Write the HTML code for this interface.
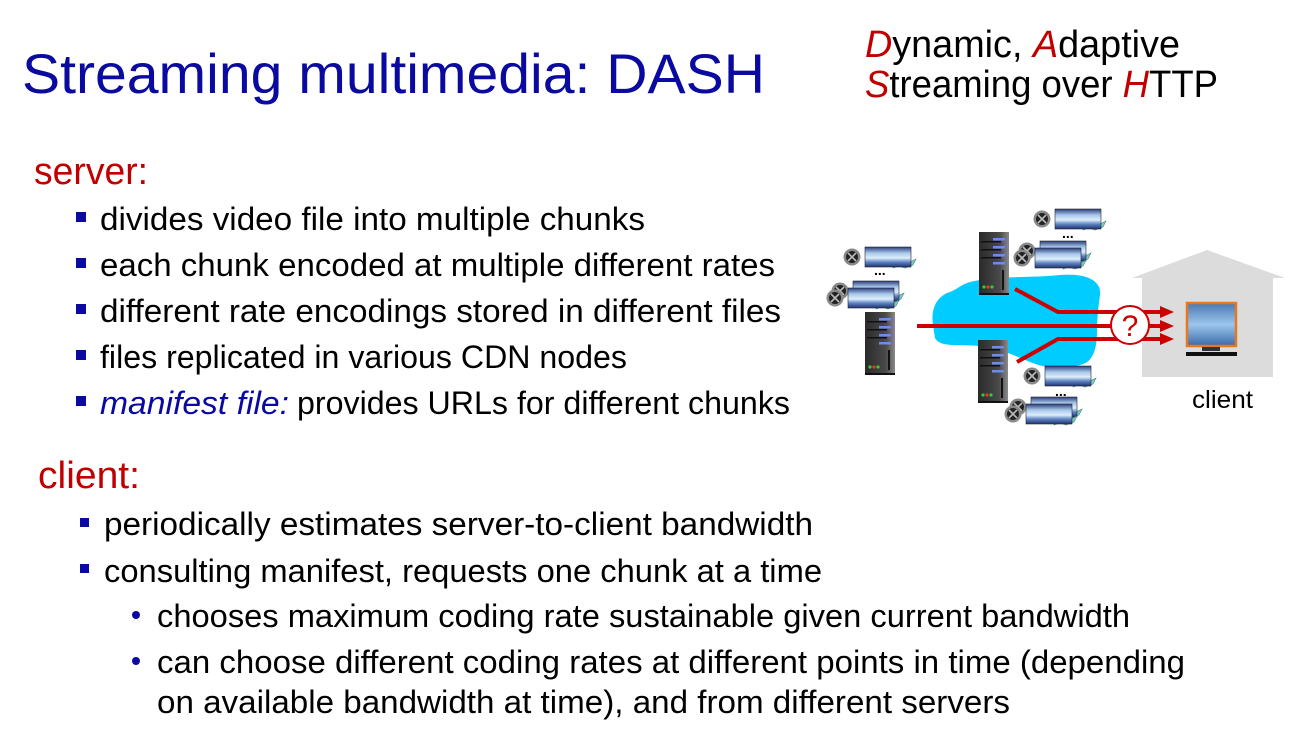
<!DOCTYPE html>
<html><head><meta charset="utf-8"><style>
html,body{margin:0;padding:0;background:#fff;width:1306px;height:730px;overflow:hidden}
svg{display:block}
text{font-family:"Liberation Sans",sans-serif}
</style></head><body>
<svg width="1306" height="730" viewBox="0 0 1306 730" xmlns="http://www.w3.org/2000/svg">
<defs>
<linearGradient id="fg" x1="0" y1="0" x2="0" y2="1">
<stop offset="0" stop-color="#2a3e7a"/><stop offset="0.3" stop-color="#a8c8ea"/><stop offset="0.55" stop-color="#dfeefa"/><stop offset="0.75" stop-color="#5f86c4"/><stop offset="1" stop-color="#20326e"/>
</linearGradient>
<linearGradient id="mg" x1="0" y1="0" x2="0" y2="1">
<stop offset="0" stop-color="#4a78b0"/><stop offset="0.5" stop-color="#9cc6ee"/><stop offset="1" stop-color="#3a6aa8"/>
</linearGradient>
<linearGradient id="sg" x1="0" y1="0" x2="1" y2="0">
<stop offset="0" stop-color="#2a2a2a"/><stop offset="0.7" stop-color="#4a4a4a"/><stop offset="1" stop-color="#8a8a8a"/>
</linearGradient>
<g id="film">
<path d="M44,4 l8,-2 l6,3 l6,-3 l-3,6 l-8,3 l-6,-2 l-6,2z" fill="#7fc8c0" stroke="#3a8a80" stroke-width="0.6"/>
<rect x="13" y="-10" width="46" height="20" fill="url(#fg)" stroke="#223" stroke-width="0.6"/>
<circle cx="0" cy="0" r="8.5" fill="#8a8a8a"/>
<circle cx="0" cy="0" r="6" fill="#222"/>
<path d="M-4,-4 L4,4 M4,-4 L-4,4" stroke="#bbb" stroke-width="1.6"/>
</g>
<g id="srv">
<rect x="0" y="0" width="30" height="63" fill="url(#sg)"/>
<rect x="0" y="61" width="30" height="2" fill="#111"/>
<rect x="14" y="6" width="12" height="2.5" fill="#6a8cf0"/>
<rect x="14" y="14" width="12" height="2.5" fill="#6a8cf0"/>
<rect x="14" y="22" width="12" height="2.5" fill="#6a8cf0"/>
<rect x="14" y="30" width="12" height="2.5" fill="#6a8cf0"/>
<rect x="2" y="9" width="20" height="1.5" fill="#111"/>
<rect x="2" y="17" width="20" height="1.5" fill="#111"/>
<rect x="2" y="25" width="20" height="1.5" fill="#111"/>
<rect x="23" y="38" width="2" height="20" fill="#111"/>
<circle cx="5" cy="55" r="1.6" fill="#3c3"/><circle cx="9" cy="55" r="1.6" fill="#e33"/><circle cx="13" cy="55" r="1.6" fill="#3c3"/>
</g>
</defs>

<!-- Title -->
<text x="22" y="93" font-size="56" fill="#0a0aa0" textLength="743" lengthAdjust="spacingAndGlyphs">Streaming multimedia: DASH</text>
<text x="865" y="57" font-size="38" fill="#000" textLength="315" lengthAdjust="spacingAndGlyphs"><tspan fill="#c00000" font-style="italic">D</tspan>ynamic, <tspan fill="#c00000" font-style="italic">A</tspan>daptive</text>
<text x="865" y="97" font-size="38" fill="#000" textLength="353" lengthAdjust="spacingAndGlyphs"><tspan fill="#c00000" font-style="italic">S</tspan>treaming over <tspan fill="#c00000" font-style="italic">H</tspan>TTP</text>

<!-- server -->
<text x="34" y="184" font-size="38" fill="#c00000" textLength="114" lengthAdjust="spacingAndGlyphs">server:</text>
<g fill="#0a0aa0">
<rect x="76" y="212" width="10" height="10"/><rect x="76" y="258" width="10" height="10"/><rect x="76" y="304" width="10" height="10"/><rect x="76" y="350" width="10" height="10"/><rect x="76" y="396" width="10" height="10"/>
</g>
<g font-size="32" fill="#000">
<text x="100" y="230" textLength="545" lengthAdjust="spacingAndGlyphs">divides video file into multiple chunks</text>
<text x="100" y="276" textLength="675" lengthAdjust="spacingAndGlyphs">each chunk encoded at multiple different rates</text>
<text x="100" y="322" textLength="681" lengthAdjust="spacingAndGlyphs">different rate encodings stored in different files</text>
<text x="100" y="368" textLength="527" lengthAdjust="spacingAndGlyphs">files replicated in various CDN nodes</text>
<text x="100" y="414" textLength="189" lengthAdjust="spacingAndGlyphs" fill="#0a0aa0" font-style="italic">manifest file:</text>
<text x="297" y="414" textLength="493" lengthAdjust="spacingAndGlyphs">provides URLs for different chunks</text>
</g>

<!-- client -->
<text x="38" y="488" font-size="38" fill="#c00000" textLength="102" lengthAdjust="spacingAndGlyphs">client:</text>
<g fill="#0a0aa0">
<rect x="80" y="518" width="9" height="9"/><rect x="80" y="564" width="9" height="9"/>
<circle cx="136" cy="615" r="4"/><circle cx="136" cy="661" r="4"/>
</g>
<g font-size="32" fill="#000">
<text x="104" y="535" textLength="709" lengthAdjust="spacingAndGlyphs">periodically estimates server-to-client bandwidth</text>
<text x="104" y="582" textLength="718" lengthAdjust="spacingAndGlyphs">consulting manifest, requests one chunk at a time</text>
<text x="157" y="627" textLength="973" lengthAdjust="spacingAndGlyphs">chooses maximum coding rate sustainable given current bandwidth</text>
<text x="157" y="673" textLength="1028" lengthAdjust="spacingAndGlyphs">can choose different coding rates at different points in time (depending</text>
<text x="157" y="713" textLength="853" lengthAdjust="spacingAndGlyphs">on available bandwidth at time), and from different servers</text>
</g>

<!-- diagram -->
<polygon points="1132,278 1207,250 1285,278 1273,278 1273,377 1142,377 1142,278" fill="#dcdcdc"/>
<path d="M933,325 C930,305 940,295 950,292 C960,288 962,283 975,281 C995,276 1030,278 1060,275 C1085,273 1102,280 1100,295 C1098,310 1097,320 1097,330 C1097,345 1095,362 1080,365 C1060,370 1045,368 1030,362 C1015,356 1000,348 980,346 C960,344 940,348 935,338 Z" fill="#00ccff"/>

<use href="#film" x="852" y="257"/>
<text x="874" y="275" font-size="14" font-weight="bold" fill="#000">...</text>
<use href="#film" x="840" y="291"/>
<use href="#film" x="835" y="298"/>
<use href="#srv" x="865" y="312"/>

<use href="#film" x="1042" y="219"/>
<text x="1062" y="238" font-size="14" font-weight="bold" fill="#000">...</text>
<use href="#film" x="1027" y="251"/>
<use href="#film" x="1022" y="258"/>
<use href="#srv" x="979" y="232"/>

<use href="#srv" x="978" y="340"/>
<use href="#film" x="1032" y="376"/>
<text x="1055" y="396" font-size="14" font-weight="bold" fill="#000">...</text>
<use href="#film" x="1018" y="407"/>
<use href="#film" x="1013" y="414"/>

<g stroke="#cc0000" stroke-width="4" fill="none">
<line x1="917" y1="326" x2="1162" y2="326"/>
<polyline points="1015,289 1058,312 1162,312"/>
<polyline points="1017,362 1058,339 1162,339"/>
</g>
<g fill="#cc0000">
<polygon points="1160,306 1174,312 1160,318"/>
<polygon points="1160,320 1174,326 1160,332"/>
<polygon points="1160,333 1174,339 1160,345"/>
</g>
<circle cx="1130" cy="325" r="19" fill="#fff" stroke="#cc0000" stroke-width="2"/>
<text x="1130" y="336" font-size="30" fill="#cc0000" text-anchor="middle">?</text>

<rect x="1187" y="303" width="49" height="43" fill="url(#mg)" stroke="#e87820" stroke-width="2.5"/>
<rect x="1202" y="347" width="18" height="4" fill="#333"/>
<rect x="1186" y="352" width="51" height="4" fill="#111"/>
<text x="1192" y="408" font-size="25" fill="#000" textLength="61" lengthAdjust="spacingAndGlyphs">client</text>
</svg>
</body></html>
